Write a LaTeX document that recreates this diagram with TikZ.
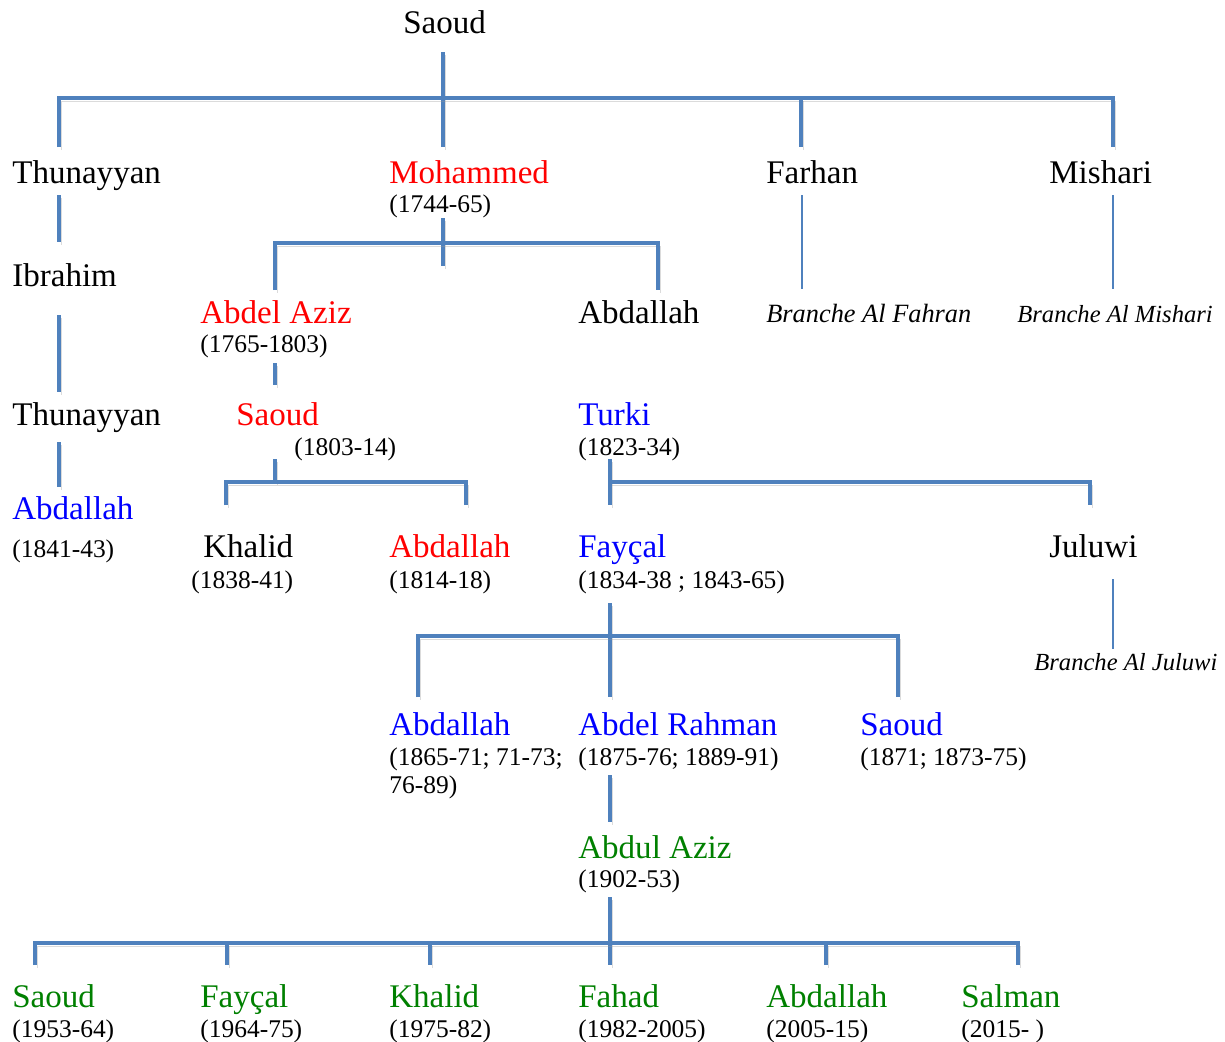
\documentclass[tikz,border=0pt]{standalone}
\usepackage{fontspec}
\setmainfont{Liberation Serif}
\definecolor{linkblue}{HTML}{4F81BD}
\definecolor{royred}{HTML}{FF0000}
\definecolor{royblue}{HTML}{0000FF}
\definecolor{roygreen}{HTML}{008000}
\tikzset{
  person/.style={anchor=base west, inner sep=0pt, font=\fontsize{18.8}{22}\selectfont},
  years/.style={anchor=base west, inner sep=0pt, font=\fontsize{14.5}{16}\selectfont},
  branch/.style={anchor=base west, inner sep=0pt, font=\fontsize{14}{17}\selectfont\itshape},
  famline/.style={draw=linkblue, line width=2.8pt,
    preaction={draw=black!40, opacity=.35, transform canvas={shift={(1.2pt,-1.8pt)}}}},
  thinline/.style={draw=linkblue, line width=1.1pt},
}

\begin{document}
\begin{tikzpicture}[x=0.02cm, y=-0.02cm]
    \useasboundingbox (0,0) rectangle (1225,1042);

    % names and reigns
    \node[person] (saoudA) at (403,33) {Saoud};
    \node[person] (thunayyanA) at (12,183) {Thunayyan};
    \node[person, text=royred] (mohammed) at (389,183) {Mohammed};
    \node[years] (mohammedY) at (389,212) {(1744-65)};
    \node[person] (farhan) at (766,183) {Farhan};
    \node[person] (mishari) at (1049,183) {Mishari};
    \node[person] (ibrahim) at (12,286) {Ibrahim};
    \node[person, text=royred] (abdelaziz) at (200,323) {Abdel Aziz};
    \node[years] (abdelazizY) at (200,352) {(1765-1803)};
    \node[person] (abdallahA) at (578,323) {Abdallah};
    \node[branch, font=\fontsize{15}{17}\selectfont\itshape] (fahranB) at (766,322) {Branche Al Fahran};
    \node[branch] (mishariB) at (1017,322) {Branche Al Mishari};
    \node[person] (thunayyanB) at (12,425) {Thunayyan};
    \node[person, text=royred] (saoudB) at (236,425) {Saoud};
    \node[years] (saoudBY) at (294,455) {(1803-14)};
    \node[person, text=royblue] (turki) at (578,425) {Turki};
    \node[years] (turkiY) at (578,455) {(1823-34)};
    \node[person, text=royblue] (abdallahB) at (12,519) {Abdallah};
    \node[years] (abdallahBY) at (12,557) {(1841-43)};
    \node[person] (khalid) at (203,557) {Khalid};
    \node[years] (khalidY) at (191,588) {(1838-41)};
    \node[person, text=royred] (abdallahC) at (389,557) {Abdallah};
    \node[years] (abdallahCY) at (389,588) {(1814-18)};
    \node[person, text=royblue] (faycal) at (578,557) {Fayçal};
    \node[years] (faycalY) at (578,588) {(1834-38 ; 1843-65)};
    \node[person] (juluwi) at (1049,557) {Juluwi};
    \node[branch] (juluwiB) at (1034,670) {Branche Al Juluwi};
    \node[person, text=royblue] (abdallahD) at (389,735) {Abdallah};
    \node[years] (abdallahDY) at (389,765) {\begin{tabular}[t]{@{}l@{}}(1865-71; 71-73;\\76-89)\end{tabular}};
    \node[person, text=royblue] (abdelrahman) at (578,735) {Abdel Rahman};
    \node[years] (abdelrahmanY) at (578,765) {(1875-76; 1889-91)};
    \node[person, text=royblue] (saoudC) at (860,735) {Saoud};
    \node[years] (saoudCY) at (860,765) {(1871; 1873-75)};
    \node[person, text=roygreen] (abdulaziz) at (578,858) {Abdul Aziz};
    \node[years] (abdulazizY) at (578,887) {(1902-53)};
    \node[person, text=roygreen] (saoudK) at (12,1007) {Saoud};
    \node[years] (saoudKY) at (12,1037) {(1953-64)};
    \node[person, text=roygreen] (faycalK) at (200,1007) {Fayçal};
    \node[years] (faycalKY) at (200,1037) {(1964-75)};
    \node[person, text=roygreen] (khalidK) at (389,1007) {Khalid};
    \node[years] (khalidKY) at (389,1037) {(1975-82)};
    \node[person, text=roygreen] (fahadK) at (578,1007) {Fahad};
    \node[years] (fahadKY) at (578,1037) {(1982-2005)};
    \node[person, text=roygreen] (abdallahK) at (766,1007) {Abdallah};
    \node[years] (abdallahKY) at (766,1037) {(2005-15)};
    \node[person, text=roygreen] (salmanK) at (961,1007) {Salman};
    \node[years] (salmanKY) at (961,1037) {(2015- )};

    % line ends
    \coordinate (bar1) at (0,98);
    \coordinate (saoudA-d) at (443,52);
    \coordinate (thunayyanA-u) at (59,147);
    \coordinate (mohammed-u) at (443,147);
    \coordinate (farhan-u) at (801,147);
    \coordinate (mishari-u) at (1113,147);
    \coordinate (thunayyanA-d) at (59,195);
    \coordinate (ibrahim-u) at (59,242);
    \coordinate (ibrahim-d) at (59,315);
    \coordinate (thunayyanB-u) at (59,392);
    \coordinate (thunayyanB-d) at (59,442);
    \coordinate (abdallahB-u) at (59,487);
    \coordinate (bar2) at (0,243);
    \coordinate (mohammed-d) at (443,218);
    \coordinate (mohammed-e) at (443,266);
    \coordinate (abdelaziz-u) at (275,290);
    \coordinate (abdallahA-u) at (658,290);
    \coordinate (farhan-d) at (802,195);
    \coordinate (fahranB-u) at (802,289);
    \coordinate (mishari-d) at (1113,195);
    \coordinate (mishariB-u) at (1113,289);
    \coordinate (abdelaziz-d) at (275,363);
    \coordinate (saoudB-u) at (275,385);
    \coordinate (bar3) at (0,482);
    \coordinate (saoudB-d) at (275,459);
    \coordinate (khalid-u) at (226,505);
    \coordinate (abdallahC-u) at (466,505);
    \coordinate (turki-d) at (610,459);
    \coordinate (faycal-u) at (610,505);
    \coordinate (juluwi-u) at (1090,505);
    \coordinate (juluwi-d) at (1113,579);
    \coordinate (juluwiB-u) at (1113,649);
    \coordinate (bar5) at (0,636);
    \coordinate (faycal-d) at (610,603);
    \coordinate (abdelrahman-u) at (610,697);
    \coordinate (abdallahD-u) at (418,697);
    \coordinate (saoudC-u) at (898,697);
    \coordinate (abdelrahman-d) at (610,775);
    \coordinate (abdulaziz-u) at (610,822);
    \coordinate (bar6) at (0,943);
    \coordinate (abdulaziz-d) at (610,897);
    \coordinate (fahadK-u) at (610,965);
    \coordinate (saoudK-u) at (35,965);
    \coordinate (faycalK-u) at (227,965);
    \coordinate (khalidK-u) at (430,965);
    \coordinate (abdallahK-u) at (826,965);
    \coordinate (salmanK-u) at (1018,965);

    % sons of Saoud
    \draw[famline] (saoudA-d) -- (mohammed-u);
    \draw[famline] (thunayyanA-u) -- (thunayyanA-u |- bar1) -- (mishari-u |- bar1) -- (mishari-u);
    \draw[famline] (farhan-u |- bar1) -- (farhan-u);
    \draw[thinline] (farhan-d) -- (fahranB-u);
    \draw[thinline] (mishari-d) -- (mishariB-u);

    % Thunayyan branch
    \draw[famline] (thunayyanA-d) -- (ibrahim-u);
    \draw[famline] (ibrahim-d) -- (thunayyanB-u);
    \draw[famline] (thunayyanB-d) -- (abdallahB-u);

    % Mohammed
    \draw[famline] (mohammed-d) -- (mohammed-e);
    \draw[famline] (abdelaziz-u) -- (abdelaziz-u |- bar2) -- (abdallahA-u |- bar2) -- (abdallahA-u);
    \draw[famline] (abdelaziz-d) -- (saoudB-u);
    \draw[famline] (saoudB-d) -- (saoudB-d |- bar3);
    \draw[famline] (khalid-u) -- (khalid-u |- bar3) -- (abdallahC-u |- bar3) -- (abdallahC-u);

    % Turki
    \draw[famline] (turki-d) -- (faycal-u);
    \draw[famline] (turki-d |- bar3) -- (juluwi-u |- bar3) -- (juluwi-u);
    \draw[thinline] (juluwi-d) -- (juluwiB-u);

    % Faycal
    \draw[famline] (faycal-d) -- (abdelrahman-u);
    \draw[famline] (abdallahD-u) -- (abdallahD-u |- bar5) -- (saoudC-u |- bar5) -- (saoudC-u);
    \draw[famline] (abdelrahman-d) -- (abdulaziz-u);

    % Abdul Aziz
    \draw[famline] (abdulaziz-d) -- (fahadK-u);
    \draw[famline] (saoudK-u) -- (saoudK-u |- bar6) -- (salmanK-u |- bar6) -- (salmanK-u);
    \foreach \k in {faycalK,khalidK,abdallahK}
        \draw[famline] (\k-u |- bar6) -- (\k-u);
\end{tikzpicture}
\end{document}
